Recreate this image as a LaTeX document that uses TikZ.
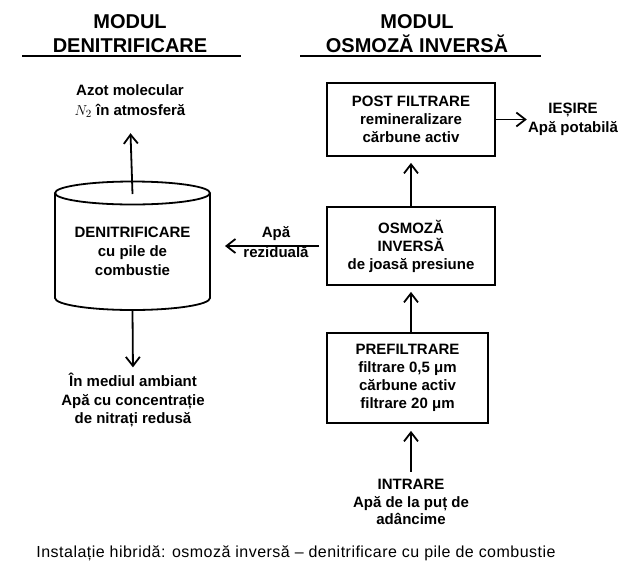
\documentclass[tikz,border=0pt]{standalone}
\usepackage{fontspec}
\setmainfont{Liberation Sans}
\usetikzlibrary{arrows.meta}
\begin{document}
\begin{tikzpicture}[x=1pt,y=-1pt,
  lbl/.style={align=center, inner sep=0pt, font={\fontsize{15pt}{19pt}\selectfont\bfseries}},
  ttl/.style={align=center, inner sep=0pt, font={\fontsize{20pt}{24pt}\selectfont\bfseries}},
  box/.style={draw, line width=1.8pt, align=center, inner sep=0pt,
    font={\fontsize{15pt}{18pt}\selectfont\bfseries}},
  arr/.style={line width=1.8pt, -{Straight Barb[length=9pt,width=14pt]}},
  thk/.style={line width=1.8pt},
  ]
\useasboundingbox (0,0) rectangle (636,579);

% titles
\node[ttl] (t1) at (130,34) {MODUL\\DENITRIFICARE};
\node[ttl] (t2) at (417,34) {MODUL\\OSMOZĂ INVERSĂ};
\draw[line width=2pt] (22,56) -- (241,56);
\draw[line width=2pt] (300,56) -- (541,56);

% cylinder
\draw[thk] (132.5,193) ellipse [x radius=77.5, y radius=11.5];
\draw[thk] (55,193) -- (55,298) arc[start angle=180, end angle=0, x radius=77.5, y radius=12] -- (210,193);
\coordinate (cyltop) at (132.5,194);
\coordinate (cylbot) at (132.5,310);
\coordinate (cyle) at (210,244);
\node[lbl] (cyl) at (132.5,251) {DENITRIFICARE\\cu pile de\\combustie};

% left labels
\node[lbl, font={\fontsize{15pt}{20pt}\selectfont\bfseries}] (azot) at (130,101) {Azot molecular\\$N_2$ în atmosferă};
\node[lbl, font={\fontsize{15pt}{18.5pt}\selectfont\bfseries}] (mediu) at (133,400.5) {În mediul ambiant\\Apă cu concentrație\\de nitrați redusă};
\node[lbl, font={\fontsize{15pt}{20pt}\selectfont\bfseries}] (rez) at (276,242) {Apă\\reziduală};

% right boxes
\node[box, minimum width=168pt, minimum height=73pt] (post) at (411,119.5) {POST FILTRARE\\remineralizare\\cărbune activ};
\node[box, minimum width=168pt, minimum height=78pt] (osm) at (411,246) {OSMOZĂ\\INVERSĂ\\de joasă presiune};
\node[box, minimum width=161pt, minimum height=90pt] (pre) at (407.5,378) {PREFILTRARE\\filtrare 0,5 μm\\cărbune activ\\filtrare 20 μm};

\node[lbl] (iesire) at (573,119) {IEȘIRE\\Apă potabilă};
\node[lbl, font={\fontsize{15pt}{17.5pt}\selectfont\bfseries}] (intrare) at (411,502.3) {INTRARE\\Apă de la puț de\\adâncime};

% caption
\node[inner sep=0pt, font={\fontsize{16pt}{18pt}\selectfont\addfontfeatures{LetterSpace=3}}] (cap) at (296,553) {Instalație hibridă: osmoză inversă – denitrificare cu pile de combustie};

% connectors
\draw[arr, shorten >=15.5pt] (cyltop) -- (azot.south);
\draw[arr, shorten >=6pt] (cylbot) -- (mediu.north);
\draw[arr, shorten <=7pt, shorten >=15pt] (osm.west) -- (osm.west -| cyle);
\draw[arr, shorten >=1pt] (post.east) -- (post.east -| iesire.west);
\draw[arr, shorten >=6pt] (pre.north -| osm.south) -- (osm.south);
\draw[arr, shorten >=6pt] (osm.north) -- (post.south);
\draw[arr, shorten <=7.6pt, shorten >=7pt] (intrare.north) -- (intrare.north |- pre.south);
\end{tikzpicture}
\end{document}
